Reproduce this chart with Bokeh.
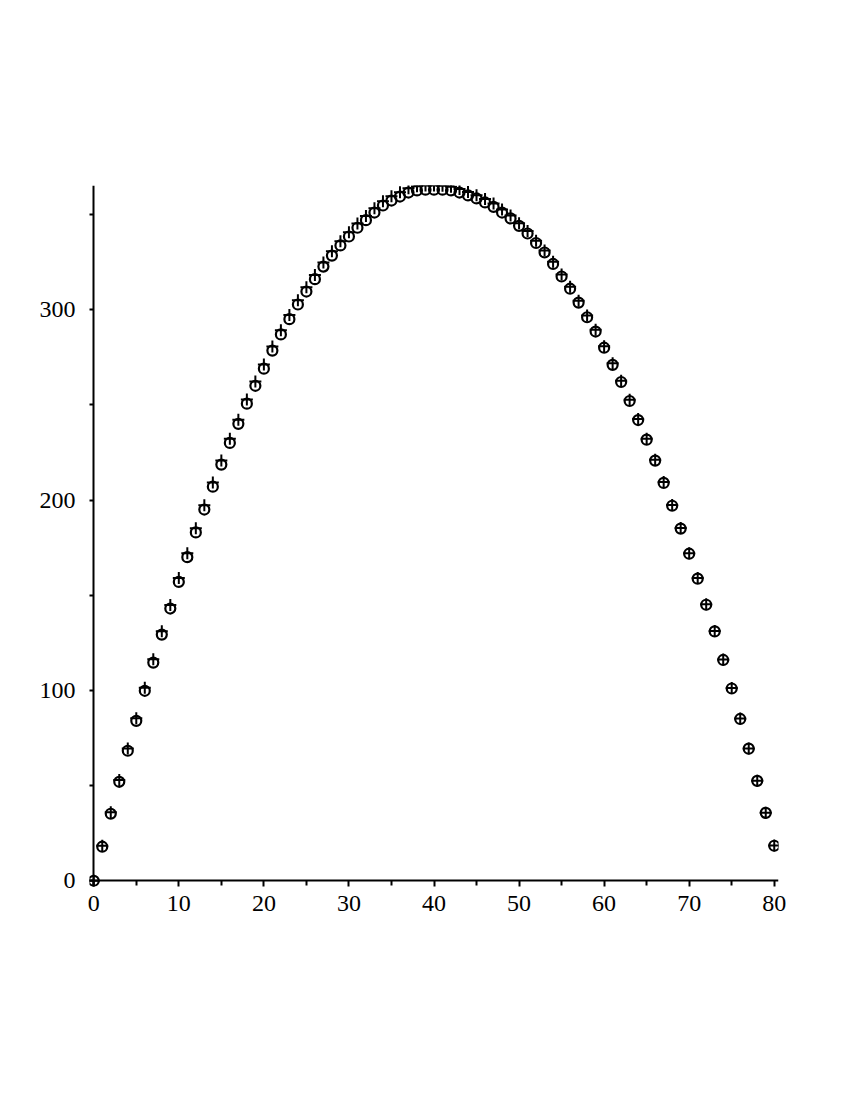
from bokeh.plotting import figure
from bokeh.models import FixedTicker, Range1d, LinearAxis
from bokeh.embed import file_html
from bokeh.resources import INLINE

x_vals = list(range(0, 81))

circle_y = [0, 17.9, 35.2, 52, 68.3, 84, 99.8, 114.6, 129.3, 143, 157, 170, 183, 195, 207,
            218.6, 230, 240, 250.6, 260, 269, 278.5, 287, 295, 302.7, 309.5, 316, 322.6,
            328.4, 333.7, 338.4, 343, 347, 351, 354.7, 357.3, 359.4, 361.5, 362.6, 363,
            363, 363, 362.6, 361.5, 360, 358.4, 356.3, 354, 351, 347.9, 344, 340, 335, 330,
            324, 317.4, 311, 303.7, 296, 288.5, 280, 271, 262, 252, 242, 231.7, 220.7, 209,
            197, 185, 171.8, 158.7, 145, 131, 116, 101, 85, 69.4, 52.5, 35.7, 18.4]

cross_y = [0, 18.4, 36.0, 53.0, 69.5, 85.4, 101.4, 116.3, 131.1, 144.9, 159.0, 172.1, 185.2,
           197.2, 209.2, 220.8, 232.2, 242.2, 252.8, 262.2, 271.2, 280.7, 289.2, 297.2, 304.9,
           311.7, 318.2, 324.8, 330.6, 335.9, 340.6, 345.2, 349.2, 353.2, 356.9, 359.5, 361.6,
           363.7, 364.8, 365.2, 365.2, 365.1, 364.6, 363.4, 361.8, 360.1, 358.1, 355.7, 352.6,
           349.4, 345.4, 341.3, 336.2, 331.1, 325.1, 318.4, 312.0, 304.6, 296.9, 289.4, 280.8,
           271.8, 262.7, 252.6, 242.6, 232.2, 221.2, 209.4, 197.4, 185.3, 172.1, 159.0, 145.2,
           131.2, 116.2, 101.2, 85.2, 69.5, 52.6, 35.8, 18.5]

x_major_ticks = [0, 10, 20, 30, 40, 50, 60, 70, 80]
x_minor_ticks = [5, 15, 25, 35, 45, 55, 65, 75]
y_major_ticks = [0, 100, 200, 300]
y_minor_ticks = [50, 150, 250, 350]

p = figure(
    frame_width=689, frame_height=701,
    x_range=Range1d(-0.5, 80.5), y_range=Range1d(-3, 365.2),
    output_backend="svg", toolbar_location=None,
    min_border_left=89, min_border_top=185, min_border_right=40, min_border_bottom=100,
)
p.outline_line_color = None
p.xgrid.visible = False
p.ygrid.visible = False
p.background_fill_color = "white"
p.border_fill_color = "white"

p.scatter(x_vals, circle_y, marker="circle", size=10, line_width=2.2,
          line_color="black", fill_color=None)
p.scatter(x_vals, cross_y, marker="cross", size=12, line_width=2,
          line_color="black")

# axis lines and ticks through the origin
for ax, major, minor in ((p.xaxis[0], x_major_ticks, x_minor_ticks),
                         (p.yaxis[0], y_major_ticks, y_minor_ticks)):
    ax.ticker = FixedTicker(ticks=major, minor_ticks=minor)
    ax.fixed_location = 0
    ax.axis_line_width = 2
    ax.axis_line_color = "black"
    ax.major_tick_line_width = 2
    ax.minor_tick_line_width = 2
    ax.major_tick_out = 9
    ax.major_tick_in = 0
    ax.minor_tick_out = 5
    ax.minor_tick_in = 0
    ax.major_label_text_alpha = 0

# label-only axes at the frame edges
lab_x = LinearAxis(ticker=FixedTicker(ticks=x_major_ticks), major_label_standoff=9)
lab_y = LinearAxis(ticker=FixedTicker(ticks=y_major_ticks), major_label_standoff=14)
for ax in (lab_x, lab_y):
    ax.axis_line_color = None
    ax.major_tick_line_color = None
    ax.minor_tick_line_color = None
    ax.major_tick_out = 0
    ax.major_tick_in = 0
    ax.minor_tick_out = 0
    ax.minor_tick_in = 0
    ax.major_label_text_font = "Liberation Serif"
    ax.major_label_text_font_size = "24px"
    ax.major_label_text_color = "black"
p.add_layout(lab_x, "below")
p.add_layout(lab_y, "left")

open("out.html", "w").write(file_html(p, INLINE))
